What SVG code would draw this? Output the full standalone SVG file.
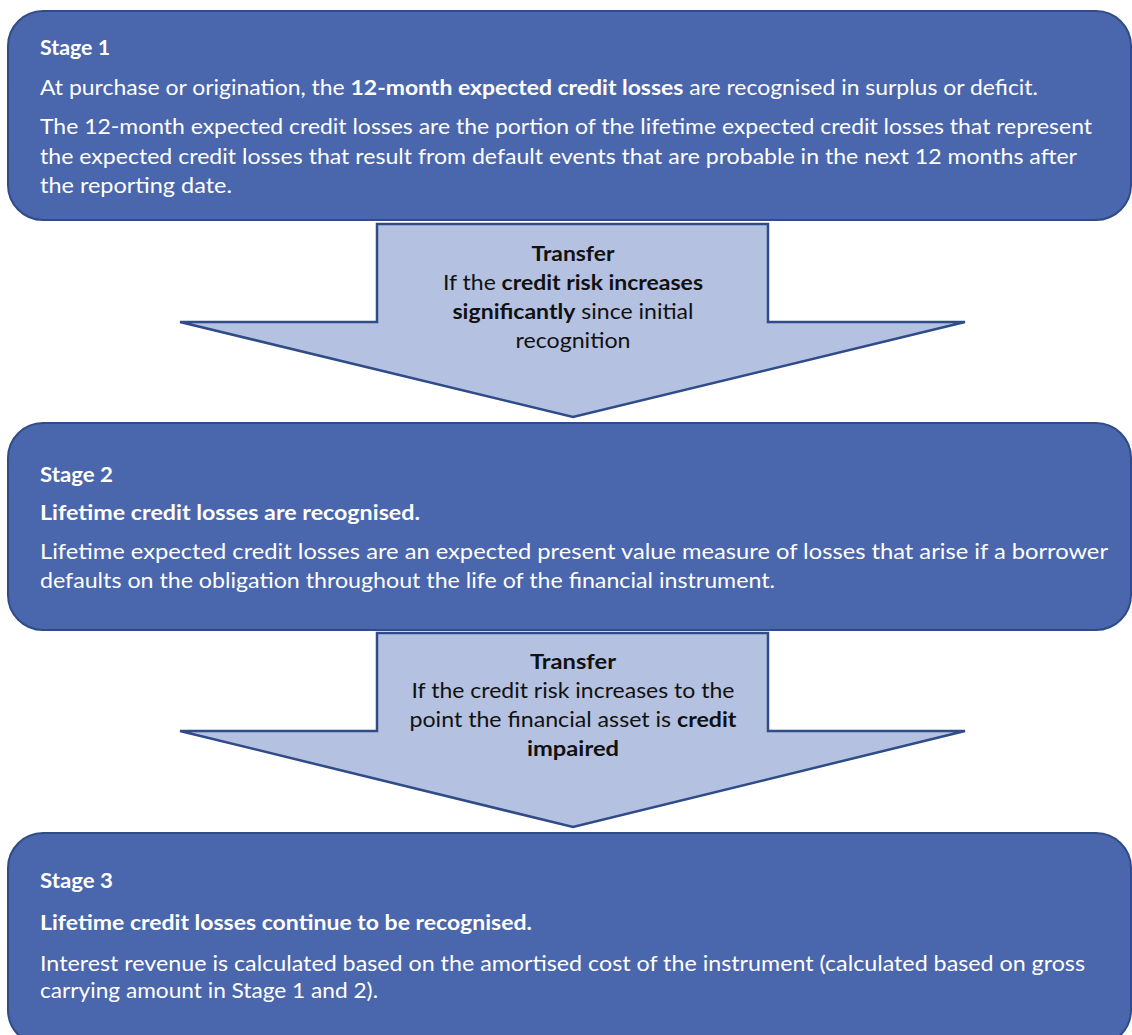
<svg xmlns="http://www.w3.org/2000/svg" width="1132" height="1035" viewBox="0 0 1132 1035">
<style>
  .box { fill: #4A66AC; stroke: #2F4B88; stroke-width: 2; }
  .arrow { fill: #B4C1E1; stroke: #2F4B88; stroke-width: 2.5; stroke-linejoin: miter; }
  .t { font-family: Lato, "Open Sans", "Liberation Sans", sans-serif; font-size: 21px; fill: #FFFFFF; }
  .a { font-family: Lato, "Open Sans", "Liberation Sans", sans-serif; font-size: 21px; fill: #111111; text-anchor: middle; }
  .b { font-weight: bold; }
</style>
<rect width="1132" height="1035" fill="#FFFFFF"/>

<g id="stage1">
  <rect class="box" x="8" y="11" width="1123" height="209" rx="35" ry="35"/>
  <text class="t b" x="40" y="55" textLength="70" lengthAdjust="spacingAndGlyphs">Stage 1</text>
  <text class="t" x="40" y="95" textLength="998" lengthAdjust="spacingAndGlyphs">At purchase or origination, the <tspan class="b">12-month expected credit losses</tspan> are recognised in surplus or deficit.</text>
  <text class="t" x="40" y="134" textLength="1052" lengthAdjust="spacingAndGlyphs">The 12-month expected credit losses are the portion of the lifetime expected credit losses that represent</text>
  <text class="t" x="40" y="164" textLength="1037" lengthAdjust="spacingAndGlyphs">the expected credit losses that result from default events that are probable in the next 12 months after</text>
  <text class="t" x="40" y="193" textLength="192" lengthAdjust="spacingAndGlyphs">the reporting date.</text>
</g>

<g id="stage2">
  <rect class="box" x="8" y="423" width="1123" height="207" rx="35" ry="35"/>
  <text class="t b" x="40" y="482" textLength="73" lengthAdjust="spacingAndGlyphs">Stage 2</text>
  <text class="t b" x="40" y="520" textLength="380" lengthAdjust="spacingAndGlyphs">Lifetime credit losses are recognised.</text>
  <text class="t" x="40" y="559" textLength="1068" lengthAdjust="spacingAndGlyphs">Lifetime expected credit losses are an expected present value measure of losses that arise if a borrower</text>
  <text class="t" x="40" y="588" textLength="735" lengthAdjust="spacingAndGlyphs">defaults on the obligation throughout the life of the financial instrument.</text>
</g>

<g id="stage3">
  <rect class="box" x="8" y="833" width="1123" height="212" rx="35" ry="35"/>
  <text class="t b" x="40" y="888" textLength="73" lengthAdjust="spacingAndGlyphs">Stage 3</text>
  <text class="t b" x="40" y="930" textLength="492" lengthAdjust="spacingAndGlyphs">Lifetime credit losses continue to be recognised.</text>
  <text class="t" x="40" y="971" textLength="1045" lengthAdjust="spacingAndGlyphs">Interest revenue is calculated based on the amortised cost of the instrument (calculated based on gross</text>
  <text class="t" x="40" y="998" textLength="338" lengthAdjust="spacingAndGlyphs">carrying amount in Stage 1 and 2).</text>
</g>

<g id="connectors">
  <g id="transfer1">
    <polygon class="arrow" points="377,224 768,224 768,322 965,322 573,417 180,322 377,322"/>
    <text class="a b" x="573" y="261" textLength="83" lengthAdjust="spacingAndGlyphs">Transfer</text>
    <text class="a" x="573" y="290" textLength="260" lengthAdjust="spacingAndGlyphs">If the <tspan class="b">credit risk increases</tspan></text>
    <text class="a" x="573" y="319" textLength="241" lengthAdjust="spacingAndGlyphs"><tspan class="b">significantly</tspan> since initial</text>
    <text class="a" x="573" y="348" textLength="115" lengthAdjust="spacingAndGlyphs">recognition</text>
  </g>
  <g id="transfer2">
    <polygon class="arrow" points="377,633 768,633 768,731 965,731 573,827 180,731 377,731"/>
    <text class="a b" x="573" y="669" textLength="86" lengthAdjust="spacingAndGlyphs">Transfer</text>
    <text class="a" x="573" y="698" textLength="323" lengthAdjust="spacingAndGlyphs">If the credit risk increases to the</text>
    <text class="a" x="573" y="727" textLength="327" lengthAdjust="spacingAndGlyphs">point the financial asset is <tspan class="b">credit</tspan></text>
    <text class="a b" x="573" y="756" textLength="92" lengthAdjust="spacingAndGlyphs">impaired</text>
  </g>
</g>
</svg>
